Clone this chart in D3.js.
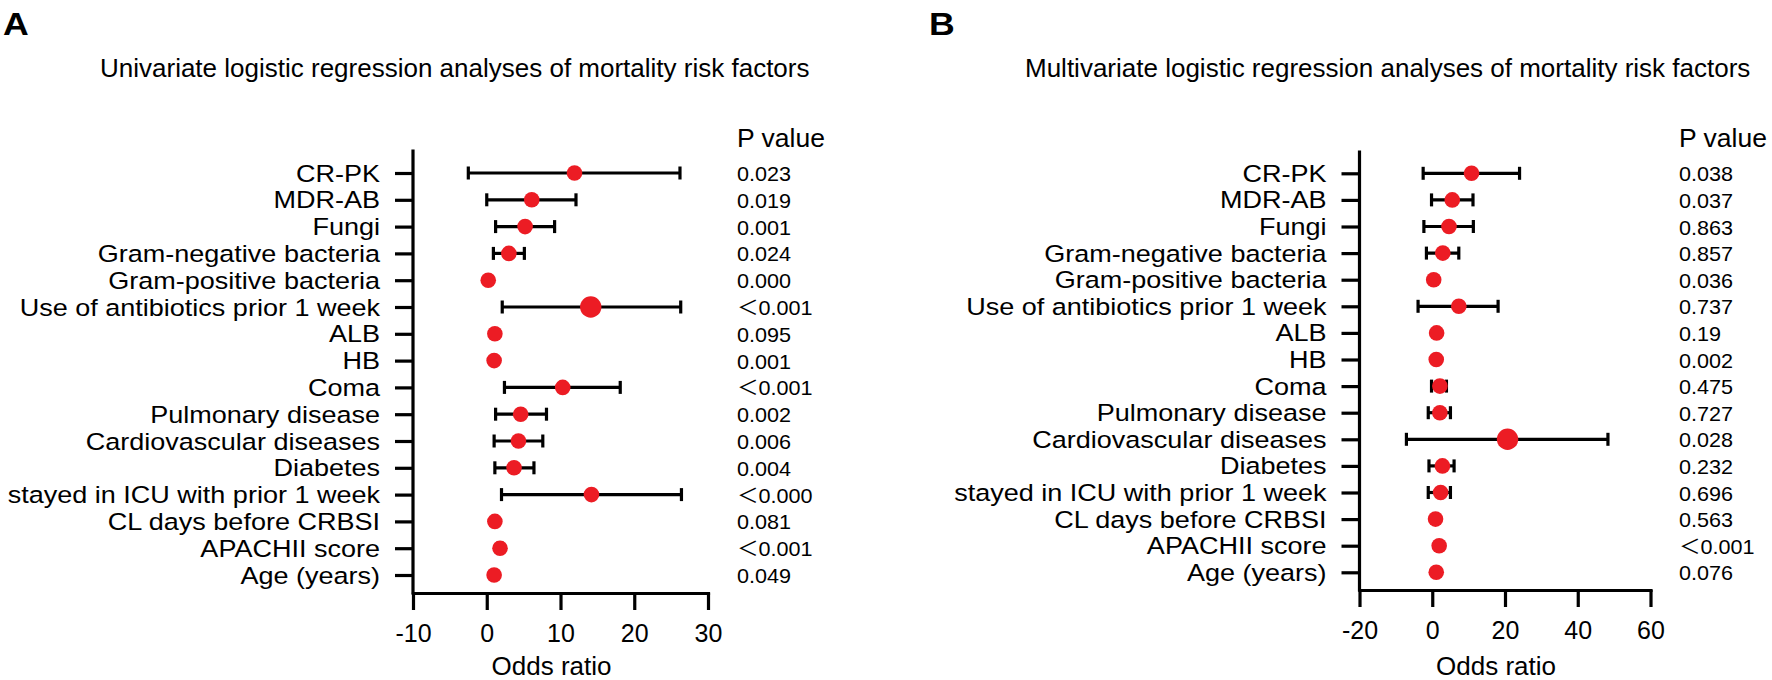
<!DOCTYPE html>
<html>
<head>
<meta charset="utf-8">
<script src="https://cdn.jsdelivr.net/npm/d3@7"></script>
<style>
  html, body { margin: 0; padding: 0; background: #fff; }
  svg { display: block; }
  text { font-family: "Liberation Sans", Arial, "Noto Sans CJK SC", sans-serif; fill: #000; }
</style>
</head>
<body>
<svg id="chart" width="1772" height="680"></svg>
<script>
// ---------------- data ----------------
const factors = [
  "CR-PK", "MDR-AB", "Fungi", "Gram-negative bacteria", "Gram-positive bacteria",
  "Use of antibiotics prior 1 week", "ALB", "HB", "Coma", "Pulmonary disease",
  "Cardiovascular diseases", "Diabetes", "stayed in ICU with prior 1 week",
  "CL days before CRBSI", "APACHII score", "Age (years)"
];

const uniOR = [11.9, 6.1, 5.2, 3.0, 0.2, 14.1, 1.1, 1.0, 10.3, 4.6, 4.3, 3.7, 14.2, 1.1, 1.8, 1.0];
const uniLo = [-2.5, 0.0, 1.2, 0.9, 0.1, 2.1, 1.0, 0.9, 2.4, 1.2, 1.0, 1.1, 2.0, 1.0, 1.5, 0.9];
const uniHi = [26.2, 12.1, 9.2, 5.1, 0.4, 26.3, 1.2, 1.1, 18.1, 8.1, 7.6, 6.4, 26.4, 1.2, 2.1, 1.1];
const uniP  = ["0.023", "0.019", "0.001", "0.024", "0.000", "＜0.001", "0.095", "0.001",
               "＜0.001", "0.002", "0.006", "0.004", "＜0.000", "0.081", "＜0.001", "0.049"];

const multiOR = [10.8, 5.5, 4.6, 2.9, 0.4, 7.3, 1.2, 1.1, 2.1, 2.1, 20.7, 2.8, 2.3, 0.9, 1.9, 1.1];
const multiLo = [-2.5, -0.2, -2.3, -1.6, 0.1, -3.9, 0.9, 0.8, -0.2, -1.1, -7.1, -0.9, -1.1, 0.7, 1.5, 0.9];
const multiHi = [24.0, 11.2, 11.3, 7.3, 0.8, 18.1, 1.5, 1.4, 3.9, 5.0, 48.3, 6.0, 5.0, 1.1, 2.3, 1.3];
const multiP  = ["0.038", "0.037", "0.863", "0.857", "0.036", "0.737", "0.19", "0.002",
                 "0.475", "0.727", "0.028", "0.232", "0.696", "0.563", "＜0.001", "0.076"];

const uniTicks = [-10, 0, 10, 20, 30];
const multiTicks = [-20, 0, 20, 40, 60];

const uniTitle = "Univariate logistic regression analyses of mortality risk factors";
const multiTitle = "Multivariate logistic regression analyses of mortality risk factors";
const xLabel = "Odds ratio";
const pHeader = "P value";

// ---------------- layout / style ----------------
const RED = "#ec1c24";
const STROKE = 3.2;
const svg = d3.select("#chart");

function stretchedText(g, x, y, str, size, sx, opts = {}) {
  return g.append("text")
    .attr("transform", `translate(${x},${y}) scale(${sx},1)`)
    .attr("font-size", size)
    .attr("font-weight", opts.weight || "normal")
    .attr("text-anchor", opts.anchor || "start")
    .text(str);
}

function panel(cfg) {
  const g = svg.append("g");
  const x = d3.scaleLinear().domain(cfg.domain).range(cfg.xRange);
  const y = d3.scalePoint().domain(factors).range(cfg.yRange);

  // panel letter & title
  stretchedText(g, cfg.letterX, 35, cfg.letter, 31, 1.15, { weight: "bold" });
  g.append("text").attr("x", cfg.titleX).attr("y", 77)
    .attr("font-size", 26).text(cfg.title);

  // y axis (ticks + category labels)
  const yAxis = d3.axisLeft(y).tickSize(18).tickSizeOuter(0).tickPadding(15);
  const yg = g.append("g").attr("transform", `translate(${cfg.xRange[0]},0)`).call(yAxis);
  yg.select(".domain").remove();
  yg.selectAll(".tick line").attr("stroke", "#000").attr("stroke-width", STROKE);
  yg.selectAll(".tick text")
    .attr("font-size", 23.5)
    .attr("font-family", '"Liberation Sans", Arial, sans-serif')
    .attr("fill", "#000")
    .each(function () {
      const tx = +this.getAttribute("x");
      d3.select(this).attr("x", 0).attr("dy", null)
        .attr("transform", `translate(${tx},8) scale(1.15,1)`);
    });
  g.append("line")
    .attr("x1", cfg.xRange[0]).attr("x2", cfg.xRange[0])
    .attr("y1", cfg.axisTop).attr("y2", cfg.axisY)
    .attr("stroke", "#000").attr("stroke-width", STROKE).attr("stroke-linecap", "square");

  // x axis
  const xAxis = d3.axisBottom(x).tickValues(cfg.ticks).tickSize(17).tickSizeOuter(0)
    .tickPadding(14).tickFormat(d => String(d));
  const xg = g.append("g").attr("transform", `translate(0,${cfg.axisY})`).call(xAxis);
  xg.select(".domain").attr("stroke", "#000").attr("stroke-width", STROKE).attr("stroke-linecap", "square");
  xg.selectAll(".tick line").attr("stroke", "#000").attr("stroke-width", STROKE);
  xg.selectAll(".tick text").attr("font-size", 25)
    .attr("font-family", '"Liberation Sans", Arial, sans-serif').attr("fill", "#000");
  g.append("text")
    .attr("x", (cfg.xRange[0] + cfg.xRange[1]) / 2 - 9).attr("y", 675)
    .attr("text-anchor", "middle").attr("font-size", 26).text(xLabel);

  // rows
  const rows = factors.map((f, i) => ({ f, or: cfg.or[i], lo: cfg.lo[i], hi: cfg.hi[i], p: cfg.p[i] }));
  const bars = g.append("g");
  bars.selectAll("line.ci").data(rows).join("line").attr("class", "ci")
    .attr("x1", d => x(d.lo)).attr("x2", d => x(d.hi))
    .attr("y1", d => y(d.f)).attr("y2", d => y(d.f))
    .attr("stroke", "#000").attr("stroke-width", STROKE);
  ["lo", "hi"].forEach(k => {
    bars.selectAll("line.cap-" + k).data(rows).join("line").attr("class", "cap-" + k)
      .attr("x1", d => x(d[k])).attr("x2", d => x(d[k]))
      .attr("y1", d => y(d.f) - 6.5).attr("y2", d => y(d.f) + 6.5)
      .attr("stroke", "#000").attr("stroke-width", STROKE);
  });
  g.append("g").selectAll("circle").data(rows).join("circle")
    .attr("cx", d => x(d.or)).attr("cy", d => y(d.f))
    .attr("r", d => d.f === cfg.bigDot ? 10.7 : 7.8)
    .attr("fill", RED);

  // p values
  g.append("text").attr("x", cfg.pX).attr("y", 147).attr("font-size", 26.5).text(pHeader);
  const pg = g.append("g");
  rows.forEach(d => stretchedText(pg, cfg.pX, y(d.f) + 8, d.p, 20, 1.08));
}

panel({
  letter: "A", letterX: 3, title: uniTitle, titleX: 100,
  domain: [-10, 30], ticks: uniTicks, xRange: [413, 708], yRange: [173, 575],
  axisTop: 151, axisY: 593, pX: 737,
  or: uniOR, lo: uniLo, hi: uniHi, p: uniP,
  bigDot: "Use of antibiotics prior 1 week"
});

panel({
  letter: "B", letterX: 929, title: multiTitle, titleX: 1025,
  domain: [-20, 60], ticks: multiTicks, xRange: [1359.5, 1650.5], yRange: [173.3, 572.3],
  axisTop: 152, axisY: 590, pX: 1679,
  or: multiOR, lo: multiLo, hi: multiHi, p: multiP,
  bigDot: "Cardiovascular diseases"
});
</script>
</body>
</html>
